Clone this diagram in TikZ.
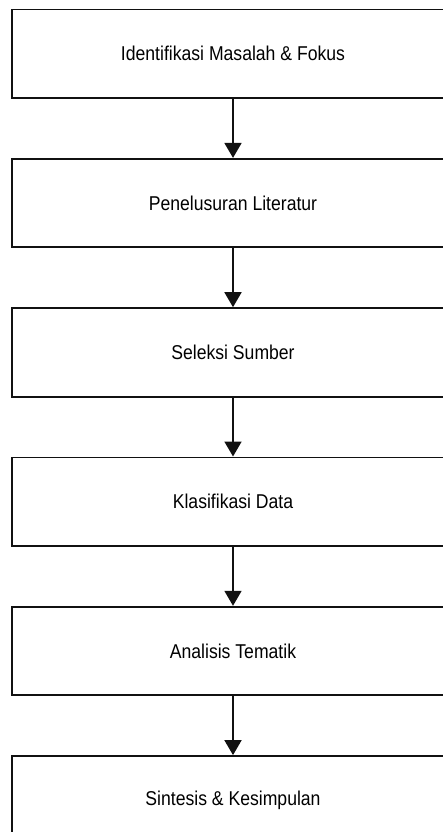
\documentclass[tikz,border=0pt]{standalone}
\usepackage{fontspec}
\setmainfont{Liberation Sans}[FakeStretch=0.88]
\usepackage{xcolor}
\usepackage{tikz}
\usetikzlibrary{positioning,arrows.meta}
\definecolor{ink}{HTML}{111111}
\tikzset{
  stage/.style={draw=ink, line width=1.8pt, fill=white, minimum width=442pt,
    minimum height=88.5pt, inner sep=0pt, font=\fontsize{20}{24}\selectfont},
  flow/.style={draw=ink, line width=1.8pt, -{Triangle[width=17pt,length=15pt]}}
}

\begin{document}
\begin{tikzpicture}[x=1pt, y=-1pt, node distance=59pt]
  \clip (0,0) rectangle (443,832);
  \fill[white] (0,0) rectangle (443,832);

  \node[stage] (masalah) at (233,53.75) {Identifikasi Masalah \& Fokus};
  \node[stage, below=of masalah] (literatur) {Penelusuran Literatur};
  \node[stage, below=of literatur] (seleksi) {Seleksi Sumber};
  \node[stage, below=of seleksi] (klasifikasi) {Klasifikasi Data};
  \node[stage, below=of klasifikasi] (analisis) {Analisis Tematik};
  \node[stage, below=of analisis] (sintesis) {Sintesis \& Kesimpulan};

  \draw[flow] (masalah) -- (literatur);
  \draw[flow] (literatur) -- (seleksi);
  \draw[flow] (seleksi) -- (klasifikasi);
  \draw[flow] (klasifikasi) -- (analisis);
  \draw[flow] (analisis) -- (sintesis);
\end{tikzpicture}
\end{document}
